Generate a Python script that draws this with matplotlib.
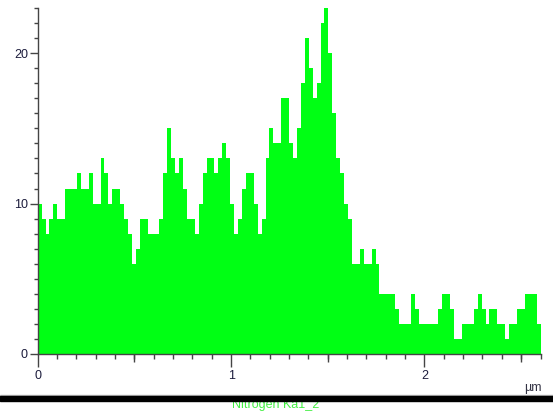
import matplotlib
matplotlib.use("Agg")
import matplotlib.pyplot as plt
import numpy as np
from matplotlib.patches import Rectangle
from matplotlib.ticker import MultipleLocator

plt.rcParams['font.family'] = ['Liberation Sans', 'DejaVu Sans']

# line scan counts, 128 channels over 2.6 um
counts = [10, 9, 8, 9, 10, 9, 9, 11, 11, 11, 12, 11, 11, 12, 10, 10, 13, 12, 10, 11, 11,
          10, 9, 8, 6, 7, 9, 9, 8, 8, 8, 9, 12, 15, 13, 12, 13, 11, 9, 9, 8, 10, 12,
          13, 13, 12, 13, 14, 13, 10, 8, 9, 11, 12, 12, 10, 8, 9, 13, 15, 14, 14, 17, 17, 14, 13,
          15, 18, 21, 19, 17, 18, 22, 23, 20, 16, 13, 12, 10, 9, 6, 6, 7, 6, 6, 7, 6,
          4, 4, 4, 4, 3, 2, 2, 2, 4, 3, 2, 2, 2, 2, 2, 3, 4, 4, 3, 1, 1, 2, 2, 2, 3, 4, 3, 2,
          3, 3, 2, 2, 1, 2, 2, 3, 3, 4, 4, 4, 2]
scan_length = 2.6
x_major = [0, 1, 2]
x_half = [0.5, 1.5, 2.5]
y_major = [0, 10, 20]
unit = "µm"
element = "Nitrogen Ka1_2"

step = scan_length / len(counts)
pos = np.arange(len(counts)) * step

fig = plt.figure(figsize=(5.53, 4.15), dpi=100)
ax = fig.add_axes([0.0682, 0.1477, 0.9092, 0.8323])

ax.bar(pos, counts, width=step, align='edge', color='#00ff14', linewidth=0,
       antialiased=False)

ax.set_xlim(0, scan_length)
ax.set_ylim(0, 23)
for s in ['top', 'right']:
    ax.spines[s].set_visible(False)
for s in ['left', 'bottom']:
    ax.spines[s].set_color('#444444')
    ax.spines[s].set_linewidth(1.0)

tc = '#444444'
lc = '#1c1c3c'
ax.set_xticks(x_major)
ax.set_xticklabels([str(v) for v in x_major])
ax.xaxis.set_minor_locator(MultipleLocator(0.1))
ax.set_yticks(y_major)
ax.yaxis.set_minor_locator(MultipleLocator(1))
ax.tick_params(axis='x', which='major', direction='out', length=9, width=1,
               color=tc, labelcolor=lc, labelsize=9, pad=3)
ax.tick_params(axis='x', which='minor', direction='out', length=3.5, width=1, color=tc)
ax.tick_params(axis='y', which='major', direction='out', length=6, width=1,
               color=tc, labelcolor=lc, labelsize=9, pad=1)
ax.tick_params(axis='y', which='minor', direction='out', length=3, width=1, color=tc)

# medium ticks at the half micron marks
sec = ax.secondary_xaxis('bottom')
sec.set_xticks(x_half)
sec.set_xticklabels([])
sec.tick_params(direction='out', length=6, width=1, color=tc)
sec.spines['bottom'].set_visible(False)

fig.text(533 / 553, 1 - 388 / 415, unit, ha='center', va='center',
         fontsize=9, color='#333344')

# bottom strip
fig.text(276 / 553, 1 - 408 / 415, element, ha='center', va='baseline',
         fontsize=9, color='#44ee44', zorder=1)
fig.patches.append(Rectangle((0, 1 - 395.5 / 415), 1, 1 / 415, transform=fig.transFigure,
                             color='#bbbbbb', zorder=2))
fig.patches.append(Rectangle((0, 1 - 401 / 415), 1, 4.8 / 415, transform=fig.transFigure,
                             color='black', zorder=3))

fig.savefig("out.png", dpi=100)
